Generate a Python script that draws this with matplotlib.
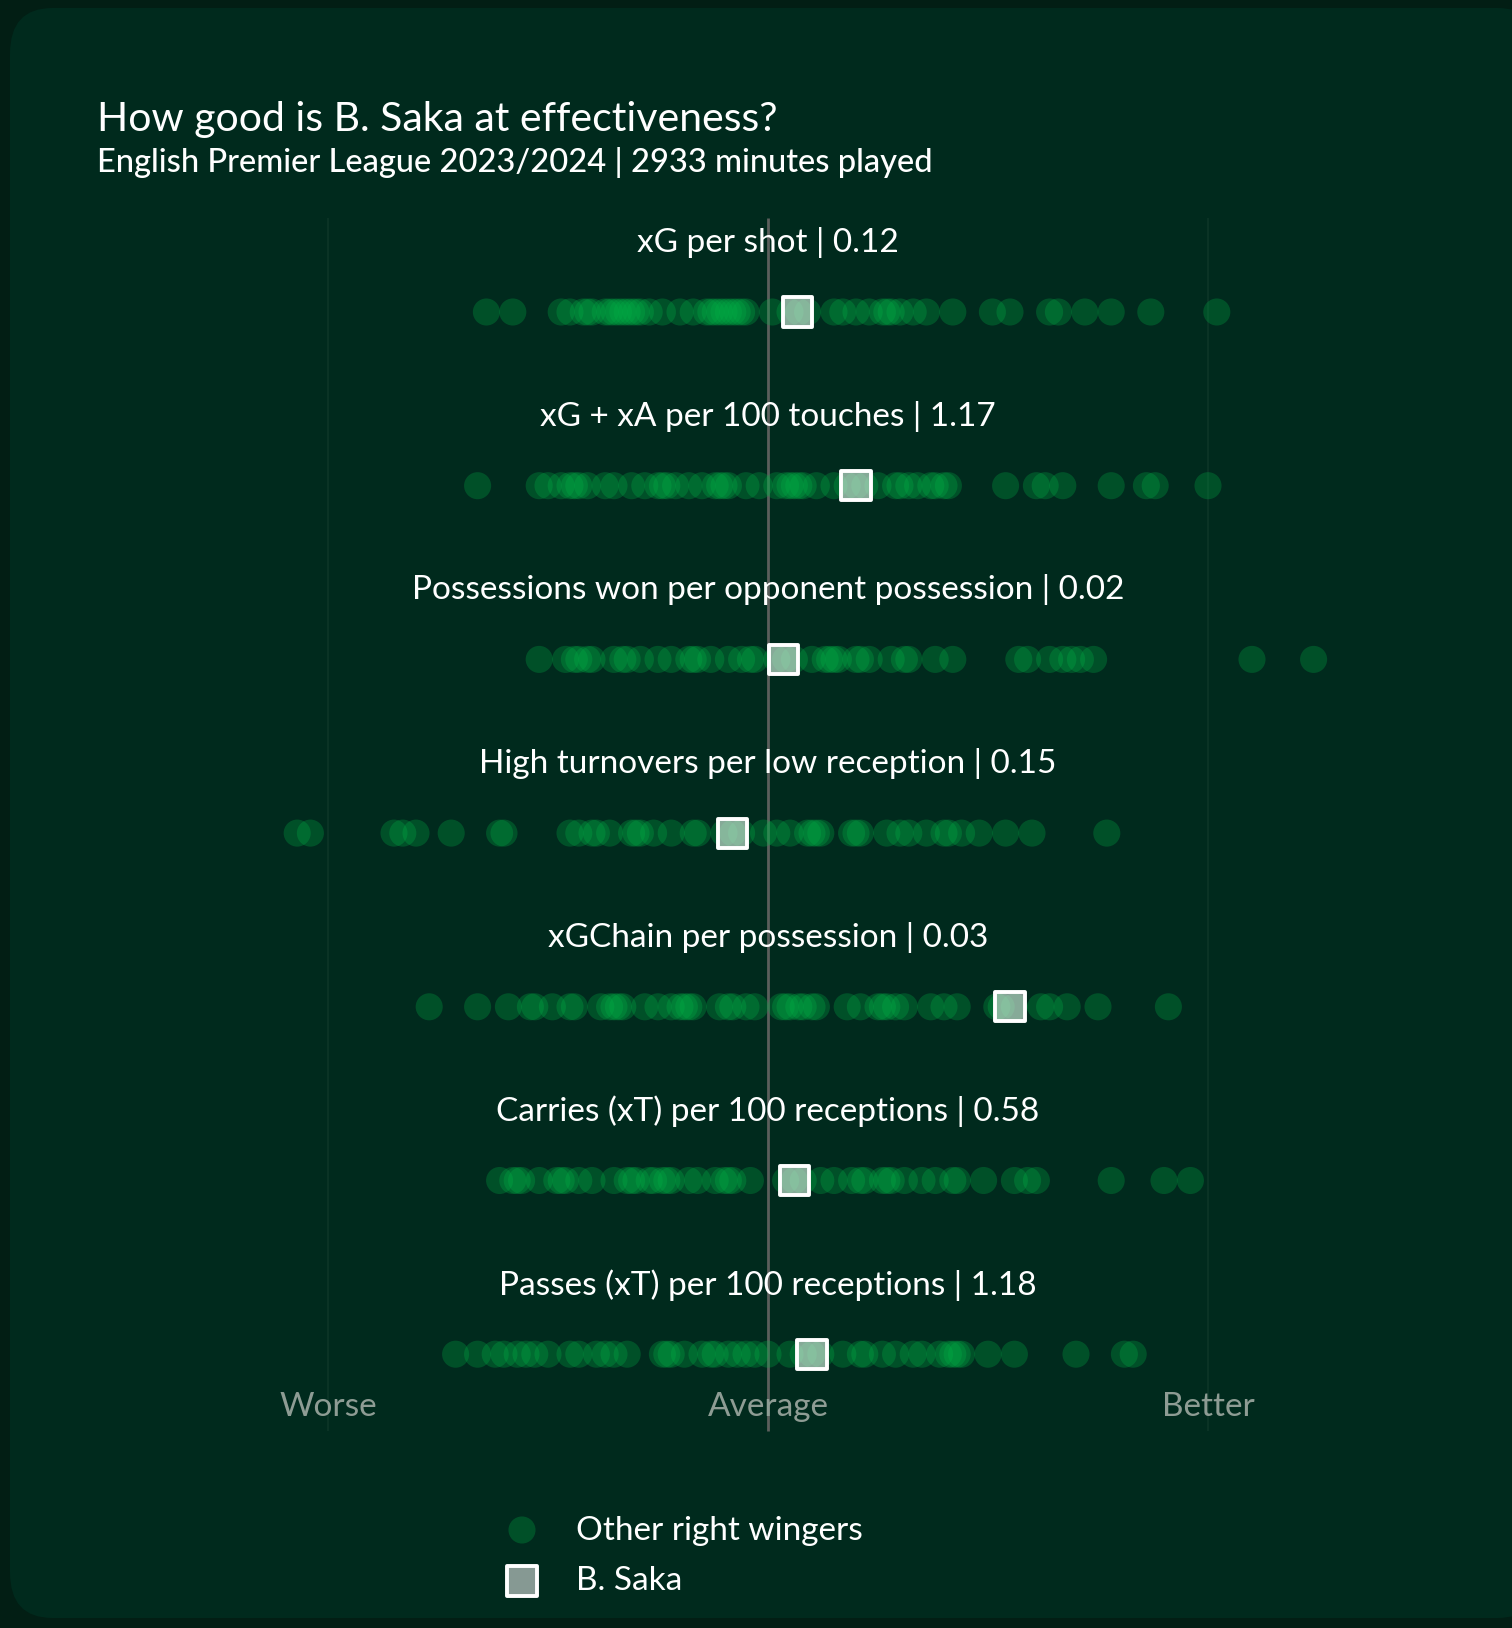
"""
Saka effectiveness beeswarm-style strip chart (right wingers, EPL 2023/24).
"""
import matplotlib.pyplot as plt
from matplotlib.patches import FancyBboxPatch

# metrics, top to bottom
METRICS = [
    "xG per shot | 0.12",
    "xG + xA per 100 touches | 1.17",
    "Possessions won per opponent possession | 0.02",
    "High turnovers per low reception | 0.15",
    "xGChain per possession | 0.03",
    "Carries (xT) per 100 receptions | 0.58",
    "Passes (xT) per 100 receptions | 1.18",
]

# standardised positions (0 = average, -1 = worse, +1 = better)
xg_shot = [-0.64, -0.58, -0.47, -0.45, -0.42, -0.41, -0.40, -0.37, -0.36, -0.35, -0.34,
           -0.33, -0.32, -0.31, -0.30, -0.29, -0.27, -0.24, -0.20, -0.17, -0.14, -0.13,
           -0.12, -0.11, -0.10, -0.09, -0.08, -0.07, -0.06, -0.05, 0.01, 0.05, 0.07,
           0.09, 0.15, 0.17, 0.20, 0.23, 0.26, 0.27, 0.28, 0.30, 0.33, 0.36, 0.42,
           0.51, 0.55, 0.64, 0.66, 0.72, 0.78, 0.87, 1.02]
xg_xa = [-0.66, -0.52, -0.50, -0.47, -0.45, -0.44, -0.43, -0.41, -0.37, -0.35, -0.31,
         -0.28, -0.25, -0.24, -0.23, -0.21, -0.18, -0.15, -0.12, -0.11, -0.10, -0.09,
         -0.05, -0.02, 0.02, 0.04, 0.05, 0.06, 0.07, 0.08, 0.11, 0.15, 0.18, 0.20,
         0.22, 0.25, 0.29, 0.30, 0.32, 0.34, 0.37, 0.38, 0.40, 0.41, 0.54, 0.61,
         0.63, 0.67, 0.78, 0.86, 0.88, 1.00]
poss_won = [-0.52, -0.46, -0.44, -0.43, -0.41, -0.40, -0.35, -0.33, -0.32, -0.29, -0.25,
            -0.22, -0.18, -0.17, -0.16, -0.13, -0.09, -0.06, -0.04, -0.03, 0.02, 0.04,
            0.06, 0.10, 0.13, 0.14, 0.15, 0.16, 0.20, 0.21, 0.23, 0.28, 0.31, 0.32,
            0.38, 0.42, 0.57, 0.59, 0.64, 0.67, 0.69, 0.71, 0.74, 1.10, 1.24]
high_to = [-1.07, -1.04, -0.85, -0.83, -0.80, -0.72, -0.61, -0.60, -0.45, -0.43, -0.40,
           -0.39, -0.36, -0.31, -0.30, -0.29, -0.26, -0.22, -0.17, -0.16, -0.10, -0.08,
           -0.06, -0.01, 0.02, 0.05, 0.09, 0.10, 0.11, 0.12, 0.19, 0.20, 0.21, 0.27,
           0.30, 0.32, 0.36, 0.40, 0.41, 0.44, 0.48, 0.54, 0.60, 0.77]
xgchain = [-0.77, -0.66, -0.59, -0.54, -0.53, -0.49, -0.45, -0.44, -0.38, -0.36, -0.35,
           -0.34, -0.33, -0.28, -0.25, -0.22, -0.20, -0.19, -0.18, -0.17, -0.11, -0.09,
           -0.08, -0.05, -0.03, 0.03, 0.04, 0.05, 0.07, 0.08, 0.10, 0.11, 0.18, 0.21,
           0.25, 0.26, 0.27, 0.29, 0.31, 0.37, 0.40, 0.43, 0.52, 0.53, 0.56, 0.62,
           0.64, 0.68, 0.75, 0.91]
carries = [-0.61, -0.58, -0.57, -0.56, -0.52, -0.48, -0.47, -0.46, -0.43, -0.40, -0.35,
           -0.32, -0.31, -0.30, -0.27, -0.26, -0.24, -0.23, -0.22, -0.18, -0.16, -0.12,
           -0.10, -0.09, -0.08, -0.04, 0.04, 0.06, 0.08, 0.12, 0.15, 0.19, 0.21, 0.22,
           0.26, 0.27, 0.28, 0.31, 0.35, 0.38, 0.42, 0.43, 0.49, 0.56, 0.59, 0.61,
           0.78, 0.90, 0.96]
passes = [-0.71, -0.66, -0.62, -0.60, -0.57, -0.55, -0.53, -0.50, -0.45, -0.43, -0.39,
          -0.37, -0.35, -0.32, -0.24, -0.23, -0.22, -0.19, -0.15, -0.13, -0.12, -0.09,
          -0.07, -0.05, -0.03, 0.00, 0.05, 0.08, 0.10, 0.12, 0.17, 0.21, 0.22, 0.26,
          0.29, 0.33, 0.35, 0.39, 0.41, 0.42, 0.43, 0.44, 0.50, 0.56, 0.70, 0.81, 0.83]
OTHERS = [xg_shot, xg_xa, poss_won, high_to, xgchain, carries, passes]

SAKA = [0.068, 0.20, 0.035, -0.08, 0.55, 0.06, 0.10]

AXIS_TICKS = [-1, 0, 1]
AXIS_LABELS = ["Worse", "Average", "Better"]

W, H = 1512, 1628
OUTER = "#021e14"
PANEL = "#002a1d"
DOT = "#00b347"
SQ_FACE = "#f5f5f5"
FONT = ["Lato", "DejaVu Sans"]


def fx(px):
    return px / W


def fy(py):
    return 1 - py / H


def saka_marker(ax, x, y):
    ax.scatter([x], [y], s=440, marker="s", facecolor=SQ_FACE, alpha=0.55,
               edgecolors="none", zorder=4)
    ax.scatter([x], [y], s=440, marker="s", facecolor="none",
               edgecolors="white", linewidths=2.8, zorder=5)


def main() -> None:
    fig = plt.figure(figsize=(W / 100, H / 100), dpi=100, facecolor=OUTER)

    panel = FancyBboxPatch((fx(10), fy(1618)), fx(1540) - fx(10), fy(8) - fy(1618),
                           boxstyle="round,pad=0,rounding_size=0.028",
                           transform=fig.transFigure, facecolor=PANEL,
                           edgecolor="none", zorder=-5)
    fig.patches.append(panel)

    ax = fig.add_axes([0, 0, 1, 1])
    ax.set_zorder(2)
    ax.set_facecolor("none")
    # x: 0 -> 768 px, 1 unit = 440 px ; y: row 0 -> 312 px, 1 row = 173.7 px
    ax.set_xlim((0 - 768) / 440, (W - 768) / 440)
    ax.set_ylim((H - 312) / 173.7, -312 / 173.7)
    ax.axis("off")

    top, bot = (218 - 312) / 173.7, (1431 - 312) / 173.7
    ax.vlines([-1, 1], top, bot, color="#0a3325", lw=1.5, zorder=1)
    ax.vlines(0, top, bot, color="#5c5f5c", lw=2, zorder=2)

    for i, (label, vals, saka) in enumerate(zip(METRICS, OTHERS, SAKA)):
        ax.scatter(vals, [i] * len(vals), s=380, color=DOT, alpha=0.28,
                   edgecolors="none", zorder=3)
        saka_marker(ax, saka, i)
        ax.text(0, i - 0.40, label, ha="center", va="center", fontsize=24,
                color="white", family=FONT, zorder=6)

    for t, lab in zip(AXIS_TICKS, AXIS_LABELS):
        ax.text(t, (1407 - 312) / 173.7, lab, ha="center", va="center",
                fontsize=24, color="#8e9c94", family=FONT)

    fig.text(fx(97), fy(119), "How good is B. Saka at effectiveness?", ha="left",
             va="center", fontsize=29.5, color="white", family=FONT)
    fig.text(fx(97), fy(162), "English Premier League 2023/2024 | 2933 minutes played",
             ha="left", va="center", fontsize=23.5, color="white", family=FONT,
             weight="medium")

    # legend
    ax_leg = fig.add_axes([0, 0, 1, 1])
    ax_leg.set_zorder(3)
    ax_leg.set_facecolor("none")
    ax_leg.set_xlim(0, W)
    ax_leg.set_ylim(H, 0)
    ax_leg.axis("off")
    ax_leg.scatter([522], [1530], s=380, color=DOT, alpha=0.28, edgecolors="none")
    saka_marker(ax_leg, 522, 1581)
    ax_leg.text(576, 1531, "Other right wingers", ha="left", va="center",
                fontsize=24, color="white", family=FONT)
    ax_leg.text(576, 1581, "B. Saka", ha="left", va="center",
                fontsize=24, color="white", family=FONT)

    fig.savefig("out.png", dpi=100, facecolor=OUTER)
    plt.close(fig)


if __name__ == "__main__":
    main()
